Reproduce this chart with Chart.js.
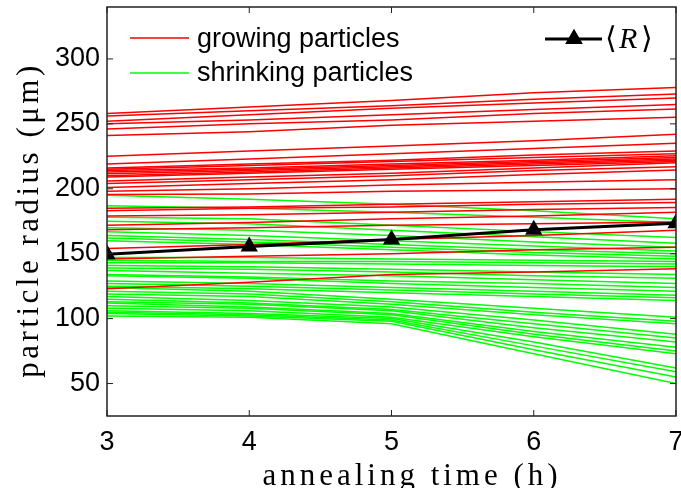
<!DOCTYPE html>
<html>
<head>
<meta charset="utf-8">
<script src="https://cdn.jsdelivr.net/npm/chart.js@4.4.0/dist/chart.umd.min.js"></script>
<style>
  html, body { margin: 0; padding: 0; background: #fff; }
  #wrap { width: 681px; height: 488px; }
</style>
</head>
<body>
<div id="wrap"><canvas id="chart" width="681" height="488"></canvas></div>
<script>
// annealing times (h)
const times = [3, 4, 5, 6, 7];
const xTicks = [3, 4, 5, 6, 7];
const yTicks = [50, 100, 150, 200, 250, 300];

// <R> mean radius
const meanRadius = [149.5, 155.5, 161, 168.5, 173.5];

// radius of each growing particle at the five times
const growingRadii = [
  [258, 263, 268, 274, 278],
  [256, 260, 264, 269, 273],
  [252, 257, 262, 266, 270],
  [250, 253, 257, 261, 265],
  [246, 250, 253, 258, 261.5],
  [241, 244, 249, 252, 255],
  [225, 229, 233, 237, 242],
  [219, 223, 227, 231, 235],
  [216, 219, 222, 226, 229],
  [215, 218, 221, 224, 227],
  [214, 216, 219, 222, 225.5],
  [213, 215, 218, 221, 224],
  [211.5, 214, 217, 220, 223],
  [210, 213, 216, 219, 222],
  [209, 212, 215, 218, 221],
  [206, 209, 212, 216, 220],
  [204, 207, 210, 214, 217],
  [201, 204, 207, 211, 214.5],
  [198, 200, 203, 205, 207],
  [195.5, 196, 198, 199, 200],
  [185, 186, 188, 190, 192],
  [183, 185, 186, 188, 189.5],
  [179, 180, 182, 184, 185.5],
  [172, 174, 177, 179, 182],
  [168.5, 170, 172, 173, 174.5],
  [154, 157, 161, 164, 168],
  [146, 148, 150, 153, 155],
  [123, 128, 134, 136, 138.5]
];

// radius of each shrinking particle at the five times
const shrinkingRadii = [
  [195, 192, 188, 183, 177],
  [187, 185, 182, 178, 174],
  [178, 177, 172, 167, 162.5],
  [175, 173, 168, 163, 158],
  [170, 168, 164, 159, 155],
  [167, 164, 160, 156, 152],
  [164, 161, 157, 153, 150],
  [162, 159, 155, 151, 148],
  [160, 157, 153, 149, 146],
  [147, 147, 146, 145, 144],
  [145, 144, 144, 143, 142],
  [143, 143, 142, 141, 140],
  [141, 140, 138, 136, 134],
  [139, 138, 136, 133, 131],
  [137, 135, 133, 130, 127],
  [134, 132, 129, 127, 124],
  [133, 131, 127, 124, 121],
  [129, 127, 124, 121, 118],
  [127, 125, 122, 119, 116],
  [125, 123, 120, 117, 114],
  [124, 121, 115, 108, 101],
  [121, 119, 113, 105, 98],
  [119, 117, 111, 103, 96],
  [117, 114, 109, 99, 88],
  [115, 112, 107, 96, 85],
  [113, 111, 106, 93, 82],
  [112, 109, 104, 90, 78],
  [110, 108, 103, 88, 75],
  [108, 106, 101, 86, 73],
  [106, 104, 100, 82, 62],
  [105, 103, 99, 79, 59],
  [104, 102, 98, 76, 55],
  [102, 101, 96, 73, 50]
];

const sansFont = '"Liberation Sans", Arial, sans-serif';
const serifFont = '"Liberation Serif", "DejaVu Serif", serif';

function toPoints(values) {
  return values.map((v, i) => ({x: times[i], y: v}));
}

const datasets = [];
datasets.push({
  label: '<R>',
  data: toPoints(meanRadius),
  borderColor: '#000',
  backgroundColor: '#000',
  borderWidth: 3,
  pointStyle: 'triangle',
  pointRadius: 10,
  pointBorderWidth: 0,
  order: 0
});
growingRadii.forEach((r, i) => {
  datasets.push({
    label: 'growing ' + i,
    data: toPoints(r),
    borderColor: '#ff0000',
    borderWidth: 1.5,
    pointRadius: 0,
    order: 1
  });
});
shrinkingRadii.forEach((r, i) => {
  datasets.push({
    label: 'shrinking ' + i,
    data: toPoints(r),
    borderColor: '#00ff00',
    borderWidth: 1.5,
    pointRadius: 0,
    order: 2
  });
});

// box, inward ticks, axis titles and legends
const decorations = {
  id: 'decorations',
  afterDraw(chart) {
    const {ctx, chartArea: a, scales: {x, y}} = chart;
    ctx.save();
    ctx.strokeStyle = '#222';
    ctx.lineWidth = 1.5;
    ctx.strokeRect(a.left, a.top, a.right - a.left, a.bottom - a.top);

    ctx.lineWidth = 1;
    ctx.beginPath();
    xTicks.forEach(v => {
      const px = x.getPixelForValue(v);
      ctx.moveTo(px, a.bottom); ctx.lineTo(px, a.bottom - 6);
      ctx.moveTo(px, a.top); ctx.lineTo(px, a.top + 6);
    });
    yTicks.forEach(v => {
      const py = y.getPixelForValue(v);
      ctx.moveTo(a.left, py); ctx.lineTo(a.left + 6, py);
      ctx.moveTo(a.right, py); ctx.lineTo(a.right - 6, py);
    });
    ctx.stroke();

    // axis titles
    ctx.fillStyle = '#000';
    ctx.font = '31px ' + serifFont;
    ctx.letterSpacing = '4px';
    ctx.textAlign = 'center';
    ctx.textBaseline = 'alphabetic';
    ctx.fillText('annealing time (h)', 412, 485);
    ctx.letterSpacing = '3.5px';
    ctx.save();
    ctx.translate(38, 220);
    ctx.rotate(-Math.PI / 2);
    ctx.fillText('particle radius (\u03bcm)', 0, 0);
    ctx.restore();
    ctx.letterSpacing = '0px';

    // legend: growing / shrinking
    ctx.lineWidth = 1.5;
    ctx.strokeStyle = '#ff0000';
    ctx.beginPath(); ctx.moveTo(130, 38); ctx.lineTo(189, 38); ctx.stroke();
    ctx.strokeStyle = '#00ff00';
    ctx.beginPath(); ctx.moveTo(130, 73); ctx.lineTo(189, 73); ctx.stroke();
    ctx.font = '27px ' + sansFont;
    ctx.textAlign = 'left';
    ctx.textBaseline = 'middle';
    ctx.fillText('growing particles', 197, 40);
    ctx.fillText('shrinking particles', 197, 74);

    // legend: <R>
    ctx.strokeStyle = '#000';
    ctx.lineWidth = 3;
    ctx.beginPath(); ctx.moveTo(545, 39); ctx.lineTo(602, 39); ctx.stroke();
    Chart.helpers.drawPoint(ctx, {pointStyle: 'triangle', radius: 10, borderWidth: 0}, 574, 39);
    ctx.fill();
    ctx.font = '30px ' + serifFont;
    ctx.fillText('\u27e8', 605, 40);
    ctx.font = 'italic 30px ' + serifFont;
    ctx.fillText('R', 619, 40);
    ctx.font = '30px ' + serifFont;
    ctx.fillText('\u27e9', 641, 40);
    ctx.restore();
  }
};

new Chart(document.getElementById('chart'), {
  type: 'line',
  data: {datasets},
  options: {
    responsive: false,
    animation: false,
    devicePixelRatio: 1,
    layout: {autoPadding: false, padding: {top: 7, right: 5, left: 0, bottom: 0}},
    plugins: {legend: {display: false}, tooltip: {enabled: false}},
    elements: {line: {tension: 0}},
    scales: {
      x: {
        type: 'linear',
        min: 3,
        max: 7,
        afterBuildTicks: s => { s.ticks = xTicks.map(v => ({value: v})); },
        afterFit: s => { s.height = 72; s.paddingLeft = 0; s.paddingRight = 0; },
        ticks: {font: {family: sansFont, size: 27}, color: '#000', padding: 10, maxRotation: 0, autoSkip: false},
        grid: {display: false, drawTicks: false},
        border: {display: false}
      },
      y: {
        type: 'linear',
        min: 25,
        max: 340,
        afterBuildTicks: s => { s.ticks = yTicks.map(v => ({value: v})); },
        afterFit: s => { s.width = 107; s.paddingTop = 0; s.paddingBottom = 0; },
        ticks: {font: {family: sansFont, size: 27}, color: '#000', padding: 7},
        grid: {display: false, drawTicks: false},
        border: {display: false}
      }
    }
  },
  plugins: [decorations]
});
</script>
</body>
</html>
